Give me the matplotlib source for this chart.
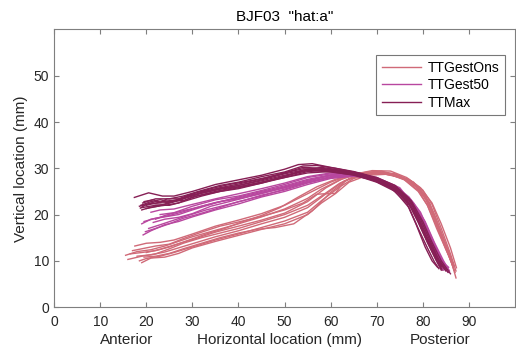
import matplotlib
matplotlib.use("Agg")
import matplotlib.pyplot as plt
import matplotlib.transforms as mtransforms

plt.rcParams['font.family'] = ['Liberation Sans', 'DejaVu Sans']

# tongue tip contours, one list of (x, y) per token
gest_ons = [
    [(15.5, 11.2), (18, 12.0), (21, 12.4), (24, 13.2), (27, 14.2), (30, 15.2), (35, 16.6), (40, 18.0),
     (45, 19.5), (50, 21.2), (55, 23.5), (58, 25.5), (62, 27.5), (66, 28.8), (70, 29.3), (74, 28.6),
     (77, 27.3), (79.5, 25.3), (81.5, 22.0), (83.5, 16.5), (85.5, 11.5), (87, 7.5)],
    [(16, 10.3), (19, 11.0), (22, 11.5), (25, 12.6), (28, 13.8), (32, 15.0), (36, 16.0), (40, 17.0),
     (45, 18.5), (50, 20.0), (55, 22.0), (58, 24.0), (62, 26.8), (66, 28.5), (70, 29.0), (74, 28.4),
     (77.5, 27.0), (80, 24.5), (82, 20.5), (84, 15.5), (86, 10.5), (87.2, 6.3)],
    [(17.5, 13.2), (20, 13.8), (23, 14.0), (26, 14.5), (30, 15.8), (35, 17.5), (40, 18.8), (45, 20.2),
     (50, 22.0), (55, 24.5), (60, 27.0), (64, 28.5), (68, 29.2), (72, 29.0), (76, 27.6), (79, 25.2),
     (81, 22.0), (83, 17.0), (85, 12.5), (86.5, 9.0)],
    [(18.5, 10.0), (20, 10.5), (23, 11.0), (26, 11.8), (30, 13.0), (35, 14.5), (40, 15.8), (45, 17.2),
     (50, 18.6), (55, 20.5), (58, 23.0), (62, 26.0), (65, 27.8), (69, 28.8), (73, 28.8), (77, 27.6),
     (80, 25.3), (82, 22.2), (84, 17.0), (86, 11.5), (87.2, 7.8)],
    [(19, 9.6), (21, 10.6), (24, 10.8), (27, 11.6), (30, 12.8), (35, 14.2), (40, 15.5), (45, 16.8),
     (50, 18.0), (55, 20.0), (58, 22.5), (61, 24.5), (64, 27.0), (68, 28.5), (72, 28.7), (76, 27.8),
     (79, 25.8), (81.5, 22.5), (83.5, 17.5), (85.5, 12.2), (86.8, 8.8)],
    [(17, 12.2), (19, 12.6), (22, 13.2), (25, 13.6), (28, 14.8), (32, 16.2), (36, 17.5), (40, 18.4),
     (45, 19.6), (50, 21.0), (54, 22.5), (57, 24.4), (59, 24.5), (61, 24.6), (63, 27.2), (66, 28.6),
     (70, 29.3), (74, 28.8), (78, 27.0), (80.5, 24.2), (82.5, 20.0), (84.5, 14.5), (86, 10.2)],
    [(20, 11.8), (23, 12.5), (26, 13.4), (30, 14.6), (35, 16.2), (40, 17.5), (45, 18.8), (50, 20.3),
     (55, 22.8), (59, 25.8), (63, 28.0), (67, 29.0), (71, 29.4), (75, 28.4), (78.5, 26.2), (81, 23.0),
     (83, 18.5), (85, 13.5), (86.5, 9.5)],
    [(18, 11.0), (21, 11.3), (24, 11.9), (27, 12.8), (31, 14.0), (35, 15.2), (40, 16.5), (45, 18.0),
     (50, 19.4), (55, 21.5), (59, 24.5), (63, 27.3), (67, 28.6), (71, 28.9), (75, 28.2), (78.5, 26.0),
     (81, 22.8), (83, 18.0), (85, 13.0), (86.8, 8.0)],
    [(16.5, 11.5), (19, 11.8), (22, 12.2), (25, 13.0), (29, 14.4), (33, 15.8), (37, 17.0), (41, 18.5),
     (45, 19.8), (49, 21.5), (53, 23.8), (57, 26.0), (61, 27.6), (65, 28.7), (69, 29.5), (73, 29.4),
     (76.5, 28.0), (79.5, 25.8), (82, 22.5), (84, 18.0), (86, 12.8), (87.3, 8.5)],
    [(19.5, 10.8), (22, 11.0), (25, 11.6), (28, 12.6), (32, 13.8), (36, 15.0), (40, 16.0), (44, 16.8),
     (48, 17.2), (52, 18.0), (56, 20.8), (60, 24.8), (64, 27.8), (68, 28.9), (72, 29.0), (76, 27.5),
     (79, 25.0), (81, 22.0), (83, 17.5), (85, 12.5), (86.3, 9.8)],
]

gest_50 = [
    [(19.0, 18.0), (21, 19.0), (24, 19.5), (27, 20.0), (30, 21.0), (35, 22.5), (40, 23.8), (45, 25.0),
     (50, 26.2), (55, 27.6), (60, 28.6), (65, 28.8), (70, 27.8), (74, 26.0), (77, 23.5), (79.5, 20.0),
     (81.5, 15.5), (83.5, 11.0), (85, 8.3)],
    [(19.3, 15.6), (21, 16.5), (24, 17.8), (27, 18.5), (30, 19.5), (35, 21.0), (40, 22.3), (45, 23.8),
     (50, 25.0), (55, 26.5), (60, 27.8), (65, 28.3), (70, 27.8), (75, 25.5), (78, 22.5), (80.5, 18.5),
     (82.5, 14.0), (84.5, 10.0), (85.8, 7.8)],
    [(19.8, 16.3), (22, 17.0), (25, 18.0), (28, 19.2), (31, 20.0), (35, 21.2), (40, 22.8), (45, 24.0),
     (50, 25.5), (55, 27.0), (60, 28.0), (65, 28.6), (70, 27.6), (74, 25.6), (77.5, 22.6), (80, 18.8),
     (82, 14.5), (84, 10.5), (85.2, 8.4)],
    [(21.0, 20.5), (23, 21.0), (26, 21.2), (30, 22.2), (35, 23.4), (40, 24.5), (45, 25.6), (50, 26.8),
     (55, 28.2), (60, 29.0), (65, 29.0), (70, 27.8), (74, 25.6), (77, 22.5), (79, 19.0), (81, 14.5),
     (83, 10.5), (84.5, 8.0)],
    [(22, 19.0), (24, 19.8), (27, 20.6), (30, 21.3), (35, 22.6), (40, 23.6), (45, 24.8), (50, 26.0),
     (55, 27.4), (60, 28.4), (65, 28.6), (70, 27.6), (75, 25.0), (78.5, 21.0), (80.5, 17.0),
     (82.5, 12.5), (84.5, 9.0)],
    [(19.5, 18.5), (22, 19.2), (25, 19.8), (28, 20.6), (32, 21.8), (36, 22.8), (40, 23.4), (45, 24.6),
     (50, 25.8), (55, 27.0), (60, 28.2), (65, 28.6), (70, 28.0), (75, 25.8), (78, 22.0), (80, 18.0),
     (82, 13.8), (84, 10.0), (85.6, 8.6)],
    [(23, 20.0), (26, 20.4), (30, 21.8), (35, 23.2), (40, 24.0), (45, 25.2), (50, 26.5), (55, 28.0),
     (60, 28.8), (65, 28.9), (70, 28.0), (74, 26.2), (77, 23.8), (79.5, 20.5), (81.5, 16.0),
     (83.5, 11.5), (85, 8.8)],
    [(20.5, 17.0), (23, 17.8), (26, 18.8), (29, 19.8), (33, 21.0), (37, 22.0), (41, 23.0), (45, 24.2),
     (50, 25.3), (55, 26.8), (60, 28.0), (65, 28.4), (70, 27.4), (74, 25.3), (77.5, 22.0), (80, 18.0),
     (82, 13.5), (84, 9.8), (85.4, 7.6)],
    [(21.5, 18.3), (24, 19.0), (27, 19.4), (30, 20.2), (34, 21.8), (38, 22.8), (42, 23.8), (46, 24.8),
     (50, 25.8), (55, 27.2), (60, 28.5), (65, 28.7), (70, 27.5), (74, 25.4), (77, 22.6), (79.5, 18.8),
     (81.5, 14.5), (83.5, 10.0), (84.8, 8.2)],
]

tt_max = [
    [(17.4, 23.7), (20.5, 24.7), (23.5, 24.0), (26, 24.0), (30, 25.0), (35, 26.5), (40, 27.5), (45, 28.5),
     (50, 29.8), (53, 30.8), (56, 31.0), (60, 30.2), (65, 29.3), (70, 28.0), (74, 26.3), (77, 23.5),
     (79, 19.5), (81, 15.0), (83, 11.0), (84.5, 8.5)],
    [(18.7, 21.4), (20, 22.2), (22, 22.8), (25, 22.6), (28, 23.5), (32, 24.8), (36, 25.8), (40, 26.6),
     (45, 27.7), (50, 29.0), (54, 30.2), (58, 30.0), (62, 29.5), (66, 28.8), (70, 27.5), (74, 25.5),
     (77, 22.5), (79, 18.5), (81, 14.0), (83, 10.0), (84, 8.3)],
    [(18.8, 22.0), (21, 22.8), (23, 23.2), (25, 22.8), (28, 23.6), (31, 24.8), (35, 25.5), (40, 26.3),
     (45, 27.5), (50, 28.8), (55, 29.8), (60, 29.4), (65, 28.7), (70, 27.2), (75, 24.8), (78, 20.8),
     (80, 16.5), (82, 12.5), (83.5, 9.5), (84.2, 8.0)],
    [(19.0, 21.0), (21, 21.6), (24, 22.0), (27, 22.5), (30, 23.8), (35, 25.0), (40, 26.0), (45, 27.0),
     (50, 28.3), (55, 29.5), (60, 29.8), (64, 29.0), (68, 28.0), (72, 26.5), (76, 24.0), (78.5, 20.0),
     (80.5, 15.5), (82.5, 11.5), (84, 8.8)],
    [(19.2, 22.5), (22, 23.4), (25, 23.4), (28, 24.0), (32, 25.2), (36, 26.3), (40, 27.0), (45, 28.2),
     (50, 29.2), (54, 30.5), (57, 30.6), (61, 30.0), (65, 29.2), (70, 27.8), (74, 26.0), (77.5, 22.8),
     (79.5, 18.0), (81.5, 13.5), (83, 10.5), (85, 7.8)],
    [(18.5, 21.8), (21, 22.4), (24, 22.2), (27, 23.0), (30, 24.2), (35, 25.3), (40, 26.3), (45, 27.3),
     (50, 28.5), (55, 29.6), (60, 29.2), (65, 28.6), (70, 27.0), (74, 25.0), (77, 21.5), (79, 17.0),
     (81, 12.8), (82.5, 9.8), (83.5, 8.3)],
    [(20, 21.3), (22.5, 21.8), (25, 22.6), (28, 23.4), (32, 24.6), (36, 25.5), (40, 26.0), (45, 27.0),
     (50, 28.0), (55, 29.3), (60, 29.6), (65, 28.8), (70, 27.5), (74, 25.7), (77, 23.0), (79.5, 19.0),
     (81.5, 14.5), (83.5, 10.2), (85.5, 7.5)],
    [(19, 21.5), (22, 22.0), (25, 22.0), (28, 22.8), (32, 24.0), (36, 25.0), (40, 25.6), (45, 26.8),
     (50, 28.0), (55, 29.0), (60, 29.3), (65, 28.5), (69, 27.5), (73, 25.8), (76.5, 22.5), (78.5, 18.0),
     (80.5, 13.0), (82, 10.0), (83.2, 8.6)],
    [(19.5, 22.8), (21.5, 23.2), (23, 22.6), (24.5, 23.4), (27, 23.4), (30, 24.5), (34, 25.6), (38, 26.5),
     (42, 27.2), (46, 28.0), (50, 29.0), (54, 29.9), (58, 29.8), (62, 29.4), (66, 28.8), (70, 27.4),
     (74, 25.4), (77, 22.2), (79, 18.3), (81, 14.0), (82.8, 10.3), (84, 8.0)],
    [(20, 22.0), (22, 22.5), (25, 23.0), (28, 23.0), (31, 24.0), (35, 24.8), (40, 25.8), (45, 26.8),
     (50, 28.2), (54, 29.6), (58, 30.2), (62, 29.6), (66, 29.0), (70, 27.8), (74, 25.9), (77.5, 23.0),
     (80, 18.5), (82, 14.0), (84, 10.0), (86, 7.2)],
]

groups = [
    ('TTGestOns', gest_ons, '#d06a78'),
    ('TTGest50', gest_50, '#b8479f'),
    ('TTMax', tt_max, '#861f55'),
]

fig = plt.figure(figsize=(5.16, 3.47), dpi=100)
ax = fig.add_axes([0.105, 0.115, 0.893, 0.80])

for name, curves, col in groups:
    for i, c in enumerate(curves):
        xs = [p[0] for p in c]
        ys = [p[1] for p in c]
        ax.plot(xs, ys, color=col, lw=1.0, label=name if i == 0 else None)

ax.set_xlim(0, 100)
ax.set_ylim(0, 60)
ax.set_xticks(range(0, 100, 10))
ax.set_yticks(range(0, 60, 10))

dark = '#262626'
for s in ax.spines.values():
    s.set_color('#7f7f7f')
    s.set_linewidth(0.8)
ax.tick_params(direction='in', top=True, right=True, length=3.5, width=0.8,
               color='#7f7f7f', labelcolor=dark, labelsize=10)
ax.tick_params(axis='x', pad=6)

ax.set_title('BJF03  "hat:a"', fontsize=11, color='black', pad=6)
ax.set_ylabel('Vertical location (mm)', fontsize=11, color=dark)
ax.set_xlabel('Horizontal location (mm)', fontsize=11, color=dark, va='center')
ax.xaxis.set_label_coords(0.49, -0.118)

trans = mtransforms.blended_transform_factory(ax.transData, ax.transAxes)
ax.text(15.7, -0.118, 'Anterior', transform=trans, ha='center', va='center', fontsize=11, color=dark)
ax.text(83.7, -0.118, 'Posterior', transform=trans, ha='center', va='center', fontsize=11, color=dark)

leg = ax.legend(loc='upper right', bbox_to_anchor=(0.978, 0.908), fontsize=10,
                fancybox=False, handlelength=2.8, borderpad=0.4, labelspacing=0.25,
                handletextpad=0.5, borderaxespad=0)
leg.get_frame().set_edgecolor('#555555')
leg.get_frame().set_linewidth(0.8)

fig.savefig('out.png', dpi=100)
